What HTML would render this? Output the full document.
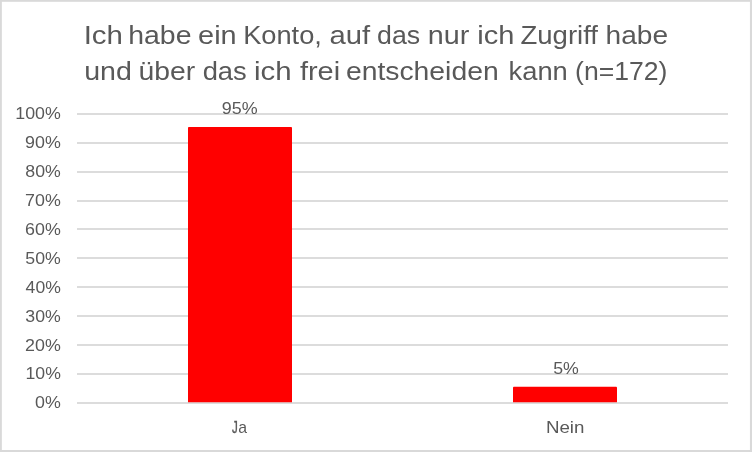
<!DOCTYPE html>
<html lang="de"><head><meta charset="utf-8"><title>Diagramm</title>
<style>
html,body{margin:0;padding:0;background:#fff;}
body{width:752px;height:452px;overflow:hidden;}
svg{display:block;}
svg text{font-family:"Liberation Sans",sans-serif;}
</style></head><body>
<svg width="752" height="452" viewBox="0 0 752 452">
<rect x="0" y="0" width="752" height="452" fill="#ffffff"/>
<!-- chart border -->
<rect x="0" y="0" width="752" height="1.8" fill="#d9d9d9"/>
<rect x="0" y="450" width="752" height="2" fill="#d9d9d9"/>
<rect x="0" y="0" width="1.85" height="452" fill="#d9d9d9"/>
<rect x="749.95" y="0" width="2.05" height="452" fill="#d9d9d9"/>
<!-- gridlines -->
<rect x="77" y="113.1" width="651" height="1.8" fill="#d9d9d9"/>
<rect x="77" y="142.1" width="651" height="1.8" fill="#d9d9d9"/>
<rect x="77" y="171.1" width="651" height="1.8" fill="#d9d9d9"/>
<rect x="77" y="200.1" width="651" height="1.8" fill="#d9d9d9"/>
<rect x="77" y="228.1" width="651" height="1.8" fill="#d9d9d9"/>
<rect x="77" y="257.1" width="651" height="1.8" fill="#d9d9d9"/>
<rect x="77" y="286.1" width="651" height="1.8" fill="#d9d9d9"/>
<rect x="77" y="315.1" width="651" height="1.8" fill="#d9d9d9"/>
<rect x="77" y="344.1" width="651" height="1.8" fill="#d9d9d9"/>
<rect x="77" y="373.1" width="651" height="1.8" fill="#d9d9d9"/>
<rect x="77" y="402.1" width="651" height="1.8" fill="#d9d9d9"/>
<!-- bars -->
<path d="M188 402.2V127.85Q188 126.95 188.90 126.95H291.10Q292 126.95 292 127.85V402.2Z" fill="#ff0000"/>
<path d="M513 402.2V387.75Q513 386.85 513.90 386.85H616.10Q617 386.85 617 387.75V402.2Z" fill="#ff0000"/>
<!-- title -->
<text y="44" font-size="26.5" fill="#595959"><tspan x="83.70" textLength="39.25" lengthAdjust="spacingAndGlyphs">Ich</tspan> <tspan x="128.22" textLength="63.23" lengthAdjust="spacingAndGlyphs">habe</tspan> <tspan x="198.10" textLength="38.52" lengthAdjust="spacingAndGlyphs">ein</tspan> <tspan x="243.17" textLength="78.76" lengthAdjust="spacingAndGlyphs">Konto,</tspan> <tspan x="329.49" textLength="40.61" lengthAdjust="spacingAndGlyphs">auf</tspan> <tspan x="377.07" textLength="43.07" lengthAdjust="spacingAndGlyphs">das</tspan> <tspan x="427.70" textLength="41.54" lengthAdjust="spacingAndGlyphs">nur</tspan> <tspan x="477.28" textLength="37.15" lengthAdjust="spacingAndGlyphs">ich</tspan> <tspan x="520.44" textLength="77.57" lengthAdjust="spacingAndGlyphs">Zugriff</tspan> <tspan x="605.64" textLength="62.49" lengthAdjust="spacingAndGlyphs">habe</tspan></text>
<text y="80" font-size="26.5" fill="#595959"><tspan x="84.21" textLength="47.69" lengthAdjust="spacingAndGlyphs">und</tspan> <tspan x="138.63" textLength="56.61" lengthAdjust="spacingAndGlyphs">über</tspan> <tspan x="202.65" textLength="44.11" lengthAdjust="spacingAndGlyphs">das</tspan> <tspan x="254.01" textLength="37.64" lengthAdjust="spacingAndGlyphs">ich</tspan> <tspan x="299.90" textLength="40.21" lengthAdjust="spacingAndGlyphs">frei</tspan> <tspan x="345.91" textLength="152.78" lengthAdjust="spacingAndGlyphs">entscheiden</tspan> <tspan x="508.59" textLength="59.24" lengthAdjust="spacingAndGlyphs">kann</tspan> <tspan x="575.05" textLength="92.32" lengthAdjust="spacingAndGlyphs">(n=172)</tspan></text>
<!-- axis / data / category labels -->
<text x="15.29" y="119" font-size="16.4" fill="#595959" textLength="45.54" lengthAdjust="spacingAndGlyphs">100%</text>
<text x="25.06" y="148" font-size="16.4" fill="#595959" textLength="35.77" lengthAdjust="spacingAndGlyphs">90%</text>
<text x="25.35" y="177" font-size="16.4" fill="#595959" textLength="35.48" lengthAdjust="spacingAndGlyphs">80%</text>
<text x="25.06" y="206" font-size="16.4" fill="#595959" textLength="35.77" lengthAdjust="spacingAndGlyphs">70%</text>
<text x="25.06" y="235" font-size="16.4" fill="#595959" textLength="35.77" lengthAdjust="spacingAndGlyphs">60%</text>
<text x="25.35" y="264" font-size="16.4" fill="#595959" textLength="35.48" lengthAdjust="spacingAndGlyphs">50%</text>
<text x="25.63" y="293" font-size="16.4" fill="#595959" textLength="35.20" lengthAdjust="spacingAndGlyphs">40%</text>
<text x="25.35" y="322" font-size="16.4" fill="#595959" textLength="35.48" lengthAdjust="spacingAndGlyphs">30%</text>
<text x="25.06" y="351" font-size="16.4" fill="#595959" textLength="35.77" lengthAdjust="spacingAndGlyphs">20%</text>
<text x="25.50" y="379" font-size="16.4" fill="#595959" textLength="35.33" lengthAdjust="spacingAndGlyphs">10%</text>
<text x="35.04" y="408" font-size="16.4" fill="#595959" textLength="25.79" lengthAdjust="spacingAndGlyphs">0%</text>
<text x="221.81" y="114" font-size="16.4" fill="#595959" textLength="35.82" lengthAdjust="spacingAndGlyphs">95%</text>
<text x="553.24" y="374" font-size="16.4" fill="#595959" textLength="25.68" lengthAdjust="spacingAndGlyphs">5%</text>
<text x="545.94" y="433" font-size="16.4" fill="#595959" textLength="38.51" lengthAdjust="spacingAndGlyphs">Nein</text>
<text y="433" font-size="16.4" fill="#595959"><tspan x="231.92" textLength="5.81" lengthAdjust="spacingAndGlyphs" stroke="#595959" stroke-width="0.35">J</tspan><tspan x="238.31" textLength="8.79" lengthAdjust="spacingAndGlyphs">a</tspan></text>
</svg>
</body></html>
